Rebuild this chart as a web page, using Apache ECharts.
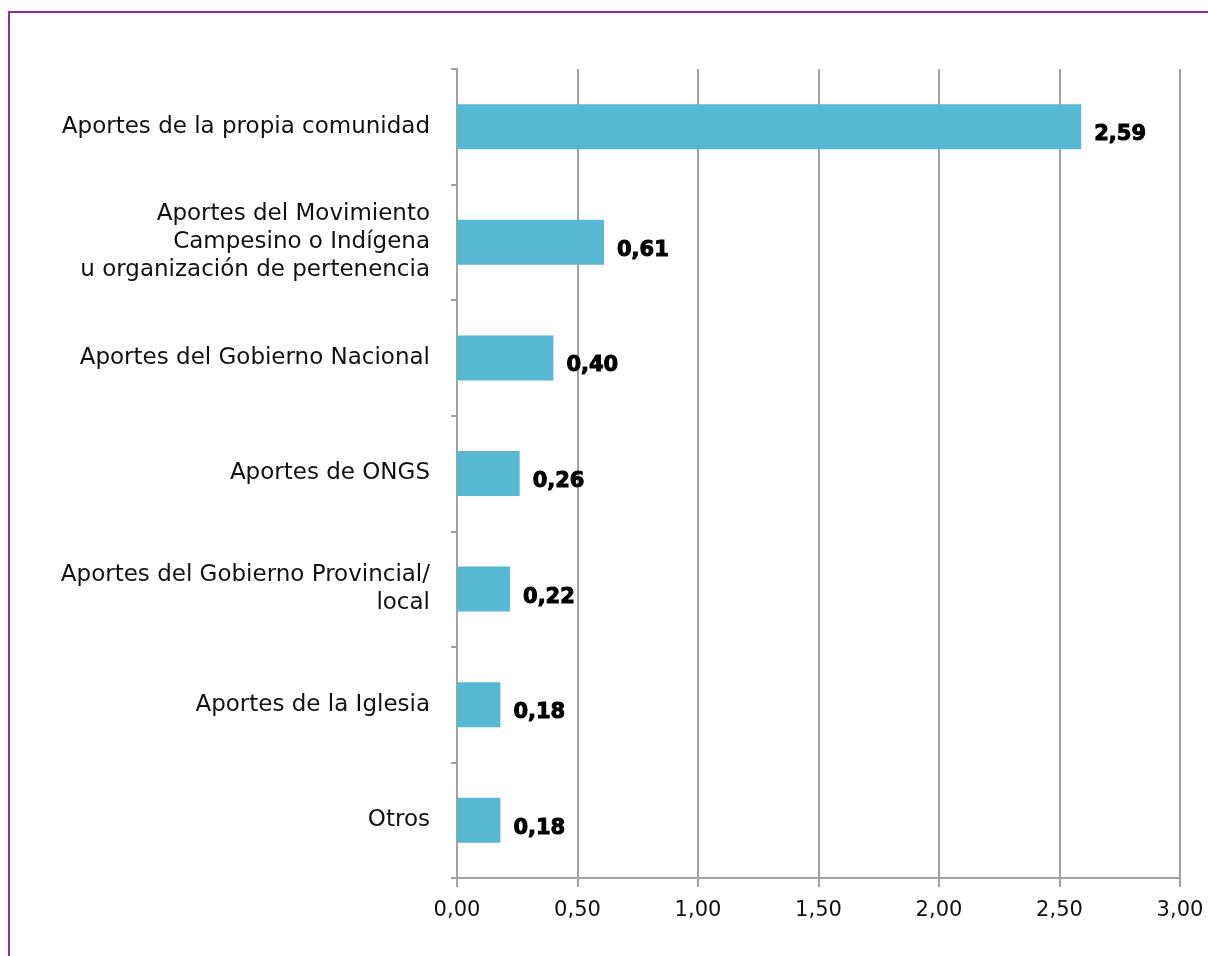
<!DOCTYPE html>
<html>
<head>
<meta charset="utf-8">
<script src="https://cdn.jsdelivr.net/npm/echarts@6/dist/echarts.min.js"></script>
<style>
  html, body { margin: 0; padding: 0; background: #fff; }
  #chart { width: 1208px; height: 956px; }
</style>
</head>
<body>
<div id="chart"></div>
<script>
// categories top to bottom
const categories = [
  'Aportes de la propia comunidad',
  'Aportes del Movimiento\nCampesino o Indígena\nu organización de pertenencia',
  'Aportes del Gobierno Nacional',
  'Aportes de ONGS',
  'Aportes del Gobierno Provincial/\nlocal',
  'Aportes de la Iglesia',
  'Otros'
]
const values = [2.59, 0.61, 0.40, 0.26, 0.22, 0.18, 0.18]
const xTicks = [0, 0.5, 1, 1.5, 2, 2.5, 3]

const fmt = (v) => v.toFixed(2).replace('.', ',')

const chart = echarts.init(document.getElementById('chart'))
chart.setOption({
  backgroundColor: '#fff',
  animation: false,
  grid: { left: 457, right: 28, top: 69, bottom: 78 },
  xAxis: {
    type: 'value',
    min: xTicks[0],
    max: xTicks[xTicks.length - 1],
    interval: 0.5,
    axisLine: { show: true, lineStyle: { color: '#a2a2a2', width: 2 } },
    axisTick: { show: true, length: 9, lineStyle: { color: '#a2a2a2', width: 2 } },
    splitLine: { show: true, lineStyle: { color: '#a2a2a2', width: 2 } },
    axisLabel: {
      margin: 22,
      color: '#111',
      fontFamily: 'DejaVu Sans',
      fontSize: 21,
      formatter: (v) => fmt(v)
    }
  },
  yAxis: {
    type: 'category',
    inverse: true,
    data: categories,
    axisLine: { show: true, lineStyle: { color: '#a2a2a2', width: 2 } },
    axisTick: { show: true, length: 6, lineStyle: { color: '#a2a2a2', width: 2 } },
    axisLabel: {
      margin: 27,
      color: '#111',
      fontFamily: 'DejaVu Sans',
      fontSize: 23,
      lineHeight: 28,
      align: 'right'
    }
  },
  series: [
    {
      type: 'bar',
      data: values,
      barWidth: 45,
      itemStyle: { color: '#56b8d2' },
      label: {
        show: true,
        position: 'right',
        distance: 13,
        offset: [0, 8],
        color: '#000',
        fontFamily: 'DejaVu Sans',
        fontWeight: 'bold',
        fontSize: 21,
        // thicker strokes, closer to the heavy face of the original
        textBorderColor: '#000',
        textBorderWidth: 1,
        formatter: (p) => fmt(p.value)
      }
    }
  ],
  graphic: [
    {
      type: 'polyline',
      shape: { points: [[9, 956], [9, 12], [1208, 12]] },
      style: { stroke: '#8e2c9e', lineWidth: 2, fill: null },
      silent: true
    }
  ]
})
window.onresize = function () {
  chart.resize()
}
</script>
</body>
</html>
